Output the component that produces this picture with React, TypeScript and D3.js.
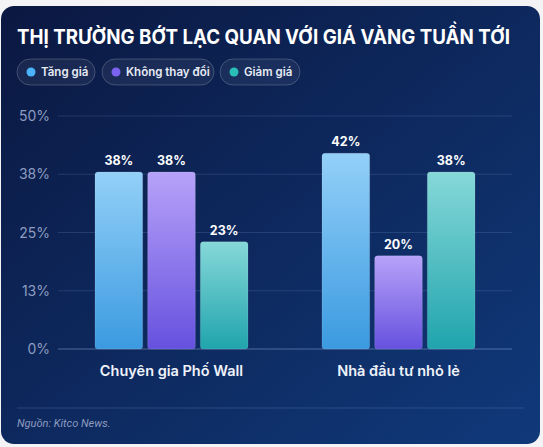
import { useEffect, useRef } from "react";
import * as d3 from "d3";

const categories = ["Chuyên gia Phố Wall", "Nhà đầu tư nhỏ lẻ"];
const seriesNames = ["Tăng giá", "Không thay đổi", "Giảm giá"];
const tangGia = [38, 42];
const khongThayDoi = [38, 20];
const giamGia = [23, 38];
const yTicks = [0, 12.5, 25, 37.5, 50];

const dotColors = ["#4ab3fb", "#7b62ee", "#2bbdb8"];
const gradTop = ["#93d0f8", "#b7a2f9", "#86d8d8"];
const gradBottom = ["#3b9ae0", "#6651df", "#20a4ad"];

const W = 543;
const H = 447;

const App = () => {
  const ref = useRef<SVGSVGElement | null>(null);

  useEffect(() => {
    if (!ref.current) return;
    const svg = d3.select(ref.current);
    svg.selectAll("*").remove();

    const values = [tangGia, khongThayDoi, giamGia];
    const margin = { top: 116, left: 58, right: 31, bottom: 98 };

    const defs = svg.append("defs");
    const bg = defs
      .append("linearGradient")
      .attr("id", "bg")
      .attr("x1", "0")
      .attr("y1", "0")
      .attr("x2", "1")
      .attr("y2", "1");
    bg.append("stop").attr("offset", "0%").attr("stop-color", "#0b1841");
    bg.append("stop").attr("offset", "100%").attr("stop-color", "#10397a");

    seriesNames.forEach((_, i) => {
      const g = defs
        .append("linearGradient")
        .attr("id", `bar${i}`)
        .attr("x1", "0")
        .attr("y1", "0")
        .attr("x2", "0")
        .attr("y2", "1");
      g.append("stop").attr("offset", "0%").attr("stop-color", gradTop[i]);
      g.append("stop").attr("offset", "100%").attr("stop-color", gradBottom[i]);
    });

    svg.append("rect").attr("width", W).attr("height", H).attr("fill", "#f4f4f6");
    svg
      .append("rect")
      .attr("x", 1)
      .attr("y", 6)
      .attr("width", 539)
      .attr("height", 438)
      .attr("rx", 13)
      .attr("fill", "url(#bg)");

    // title
    svg
      .append("text")
      .attr("x", 17)
      .attr("y", 44)
      .attr("fill", "#ffffff")
      .attr("font-family", "Inter, sans-serif")
      .attr("font-weight", 700)
      .attr("font-size", 20)
      .attr("textLength", 493)
      .attr("lengthAdjust", "spacingAndGlyphs")
      .text("THỊ TRƯỜNG BỚT LẠC QUAN VỚI GIÁ VÀNG TUẦN TỚI");

    // legend pills
    const pillX = [17, 102, 220];
    const pillW = [78, 112, 80];
    seriesNames.forEach((name, i) => {
      const g = svg.append("g").attr("transform", `translate(${pillX[i]},59)`);
      g.append("rect")
        .attr("width", pillW[i])
        .attr("height", 26)
        .attr("rx", 13)
        .attr("fill", "rgba(255,255,255,0.06)")
        .attr("stroke", "rgba(255,255,255,0.2)")
        .attr("stroke-width", 1);
      g.append("circle").attr("cx", 14).attr("cy", 13).attr("r", 4.5).attr("fill", dotColors[i]);
      g.append("text")
        .attr("x", 24)
        .attr("y", 17)
        .attr("fill", "#e6ebf5")
        .attr("font-family", "Inter, sans-serif")
        .attr("font-weight", 600)
        .attr("font-size", 11.5)
        .text(name);
    });

    const x0 = d3
      .scaleBand<string>()
      .domain(categories)
      .range([margin.left, W - margin.right])
      .paddingInner(0.326)
      .paddingOuter(0.163);
    const x1 = d3
      .scaleBand<string>()
      .domain(seriesNames)
      .range([0, x0.bandwidth()])
      .paddingInner(0.095);
    const y = d3
      .scaleLinear()
      .domain([0, 50])
      .range([H - margin.bottom, margin.top]);

    // grid
    const grid = svg.append("g");
    yTicks.forEach((t) => {
      grid
        .append("line")
        .attr("x1", margin.left)
        .attr("x2", W - margin.right)
        .attr("y1", y(t))
        .attr("y2", y(t))
        .attr("stroke", t === 0 ? "rgba(160,185,230,0.45)" : "rgba(120,150,210,0.22)")
        .attr("stroke-width", 1);
      grid
        .append("text")
        .attr("x", 50)
        .attr("y", y(t) + 5)
        .attr("text-anchor", "end")
        .attr("fill", "#8d9cc0")
        .attr("font-family", "Inter, sans-serif")
        .attr("font-size", 14)
        .text(`${Math.round(t)}%`);
    });

    // bars
    categories.forEach((cat, ci) => {
      const g = svg.append("g").attr("transform", `translate(${x0(cat)},0)`);
      seriesNames.forEach((s, si) => {
        const v = values[si][ci];
        g.append("rect")
          .attr("x", x1(s)!)
          .attr("y", y(v))
          .attr("width", x1.bandwidth())
          .attr("height", y(0) - y(v))
          .attr("rx", 3)
          .attr("fill", `url(#bar${si})`)
          .attr("stroke", "rgba(255,255,255,0.12)")
          .attr("stroke-width", 1);
        g.append("text")
          .attr("x", x1(s)! + x1.bandwidth() / 2)
          .attr("y", y(v) - 7)
          .attr("text-anchor", "middle")
          .attr("fill", "#ffffff")
          .attr("font-family", "Inter, sans-serif")
          .attr("font-weight", 700)
          .attr("font-size", 12.5)
          .text(`${v}%`);
      });
      svg
        .append("text")
        .attr("x", x0(cat)! + x0.bandwidth() / 2)
        .attr("y", 376)
        .attr("text-anchor", "middle")
        .attr("fill", "#eef2fa")
        .attr("font-family", "Inter, sans-serif")
        .attr("font-weight", 600)
        .attr("font-size", 14.5)
        .text(cat);
    });

    // footer
    svg
      .append("line")
      .attr("x1", 17)
      .attr("x2", 524)
      .attr("y1", 408)
      .attr("y2", 408)
      .attr("stroke", "rgba(120,150,210,0.25)");
    svg
      .append("text")
      .attr("x", 17)
      .attr("y", 427)
      .attr("fill", "#8d9cc0")
      .attr("font-family", "Roboto, sans-serif")
      .attr("font-style", "italic")
      .attr("font-size", 11)
      .text("Nguồn: Kitco News.");
  }, []);

  return (
    <svg
      ref={ref}
      width={W}
      height={H}
      style={{ position: "absolute", left: 0, top: 0 }}
    />
  );
};

export default App;
